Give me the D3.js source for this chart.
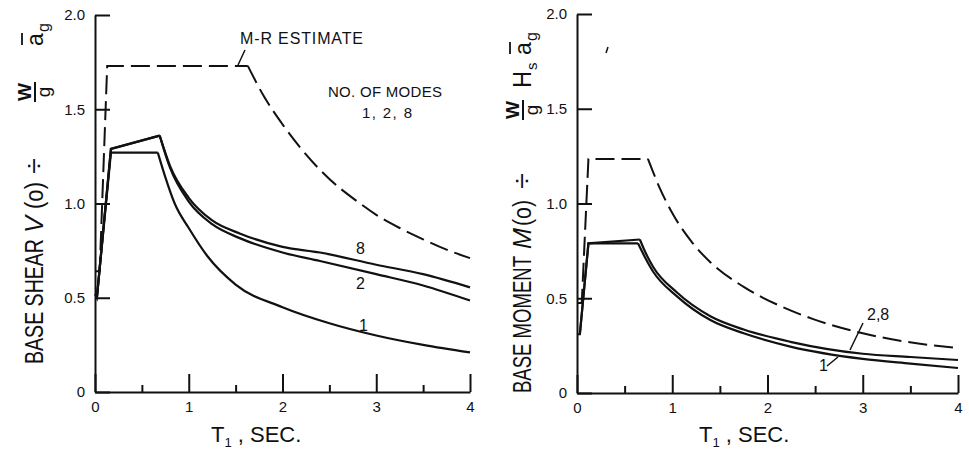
<!DOCTYPE html>
<html lang="en">
<head>
<meta charset="UTF-8">
<title>Base shear and base moment vs T1</title>
<style>
    body { margin: 0; background: #fff; }
    svg { display: block; }
    text { font-family: "Liberation Sans", "DejaVu Sans", sans-serif; fill: #111; }
    .axis path, .axis line { stroke: #111; stroke-width: 2; fill: none; }
    .axis text { font-size: 15px; }
    .curve { fill: none; stroke: #111; stroke-width: 2.2; stroke-linejoin: miter; }
    .dash { stroke-dasharray: 19 7; stroke-width: 2; }
    .leader { stroke: #111; stroke-width: 1.5; }
</style>
</head>
<body>
<svg id="chart" width="969" height="451"></svg>
<script src="https://cdn.jsdelivr.net/npm/d3@7"></script>
<script>
// ---- tick values ----
const xTicks = [0, 1, 2, 3, 4];
const xMinor = [0.5, 1.5, 2.5, 3.5];
const yTicks = [0, 0.5, 1.0, 1.5, 2.0];

// ---- base shear (left panel) ----
// *Break = index where the straight rise ends and the smooth decay starts
const shearMrT = [0, 0.05, 0.13, 1.63, 1.8, 2.0, 2.2, 2.5, 2.8, 3.0, 3.25, 3.5, 3.75, 4.0];
const shearMrV = [0.64, 0.64, 1.73, 1.73, 1.57, 1.42, 1.29, 1.13, 1.01, 0.94, 0.87, 0.81, 0.755, 0.71];
const shearMrBreak = 3;
const shear1T = [0, 0.02, 0.17, 0.67, 0.75, 0.85, 1.0, 1.2, 1.5, 2.0, 2.5, 3.0, 3.5, 4.0];
const shear1V = [0.52, 0.50, 1.27, 1.27, 1.14, 1.0, 0.87, 0.72, 0.57, 0.45, 0.365, 0.30, 0.25, 0.21];
const shear1Break = 3;
const shear2T = [0.02, 0.17, 0.69, 0.8, 1.0, 1.25, 1.55, 2.0, 2.4, 3.0, 3.5, 4.0];
const shear2V = [0.50, 1.29, 1.36, 1.19, 1.01, 0.89, 0.815, 0.74, 0.695, 0.625, 0.565, 0.485];
const shear8T = [0.02, 0.17, 0.69, 0.8, 1.0, 1.25, 1.55, 2.0, 2.4, 3.0, 3.5, 4.0];
const shear8V = [0.50, 1.29, 1.36, 1.20, 1.03, 0.91, 0.84, 0.77, 0.74, 0.675, 0.625, 0.555];
const shear28Break = 2;

// ---- base moment (right panel) ----
const momMrT = [0, 0.05, 0.12, 0.745, 0.87, 1.0, 1.2, 1.4, 1.75, 2.13, 2.48, 3.0, 3.53, 4.0];
const momMrV = [0.475, 0.475, 1.235, 1.235, 1.08, 0.95, 0.80, 0.69, 0.56, 0.46, 0.39, 0.315, 0.265, 0.237];
const momMrBreak = 3;
const mom1T = [0, 0.03, 0.12, 0.64, 0.72, 0.8, 1.05, 1.4, 1.75, 2.24, 3.0, 3.5, 4.0];
const mom1V = [0.31, 0.31, 0.79, 0.79, 0.71, 0.64, 0.51, 0.385, 0.315, 0.245, 0.18, 0.155, 0.132];
const mom1Break = 3;
const mom28T = [0.03, 0.12, 0.66, 0.72, 0.8, 1.05, 1.4, 1.75, 2.24, 3.0, 3.5, 4.0];
const mom28V = [0.31, 0.79, 0.81, 0.74, 0.665, 0.53, 0.405, 0.335, 0.27, 0.207, 0.19, 0.174];
const mom28Break = 2;

const svg = d3.select("#chart");

function zip(ts, vs) { return ts.map((t, i) => [t, vs[i]]); }

function drawPanel(p) {
    const x = d3.scaleLinear().domain([0, 4]).range([p.left, p.right]);
    const y = d3.scaleLinear().domain([0, 2]).range([p.bottom, p.top]);
    const g = svg.append("g");

    // y axis, ticks pointing inward
    g.append("g").attr("class", "axis")
        .attr("transform", "translate(" + p.left + ",0)")
        .call(d3.axisLeft(y).tickValues(yTicks).tickSizeInner(-15).tickSizeOuter(0).tickPadding(10)
            .tickFormat(d => d === 0 ? "0" : d3.format(".1f")(d)));

    // x axis, major ticks up
    g.append("g").attr("class", "axis")
        .attr("transform", "translate(0," + p.bottom + ")")
        .call(d3.axisBottom(x).tickValues(xTicks).tickSizeInner(-18).tickSizeOuter(0).tickPadding(9)
            .tickFormat(d3.format("d")));
    g.append("g").attr("class", "axis")
        .attr("transform", "translate(0," + p.bottom + ")")
        .call(d3.axisBottom(x).tickValues(xMinor).tickSizeInner(-7).tickSizeOuter(0).tickFormat(""))
        .select(".domain").remove();

    const straight = d3.line().x(d => x(d[0])).y(d => y(d[1]));
    const smooth = d3.line().x(d => x(d[0])).y(d => y(d[1])).curve(d3.curveMonotoneX);

    p.series.forEach(s => {
        const pts = zip(s.t, s.v);
        const cls = s.dashed ? "curve dash" : "curve";
        g.append("path").attr("class", cls).attr("d", straight(pts.slice(0, s.brk + 1)));
        g.append("path").attr("class", cls).attr("d", smooth(pts.slice(s.brk)));
    });

    // x title
    const xt = g.append("text").attr("x", p.xTitleX).attr("y", 442).style("font-size", "22px");
    xt.append("tspan").text("T");
    xt.append("tspan").attr("dy", 5).style("font-size", "13px").text("1");
    xt.append("tspan").attr("dy", -5).text("  ,  SEC.");

    return { x, y, g };
}

// rotated y title with stacked fraction
function yTitle(gx, gy, parts) {
    const t = svg.append("g").attr("transform", "translate(" + gx + "," + gy + ") rotate(-90)");
    parts.forEach(pt => {
        if (pt.frac) {
            t.append("text").attr("x", pt.x).attr("y", -12).attr("text-anchor", "middle")
                .style("font-size", "19px").style("font-weight", "bold").text("W");
            t.append("line").attr("x1", pt.x - 10).attr("x2", pt.x + 10).attr("y1", -8).attr("y2", -8)
                .attr("stroke", "#111").attr("stroke-width", 2);
            t.append("text").attr("x", pt.x).attr("y", 7).attr("text-anchor", "middle")
                .style("font-size", "19px").text("g");
        } else if (pt.abar) {
            t.append("text").attr("x", pt.x).attr("y", 0).style("font-size", "23px").text("a");
            t.append("line").attr("x1", pt.x + 1).attr("x2", pt.x + 13).attr("y1", -21).attr("y2", -21)
                .attr("stroke", "#111").attr("stroke-width", 1.8);
            t.append("text").attr("x", pt.x + 14).attr("y", 6).style("font-size", "16px").text("g");
        } else {
            const tx = t.append("text").attr("x", pt.x).attr("y", 0)
                .style("font-size", (pt.size || 26) + "px")
                .style("font-style", pt.italic ? "italic" : "normal")
                .text(pt.s);
            if (pt.len) tx.attr("textLength", pt.len).attr("lengthAdjust", "spacingAndGlyphs");
            if (pt.sub) t.append("text").attr("x", pt.x + pt.len + 1).attr("y", 6)
                .style("font-size", "15px").text(pt.sub);
        }
    });
}

const left = drawPanel({
    left: 95, right: 470, top: 15, bottom: 392, xTitleX: 211,
    series: [
        { t: shearMrT, v: shearMrV, brk: shearMrBreak, dashed: true },
        { t: shear1T, v: shear1V, brk: shear1Break },
        { t: shear2T, v: shear2V, brk: shear28Break },
        { t: shear8T, v: shear8V, brk: shear28Break }
    ]
});

const right = drawPanel({
    left: 577, right: 958, top: 14, bottom: 393, xTitleX: 699,
    series: [
        { t: momMrT, v: momMrV, brk: momMrBreak, dashed: true },
        { t: mom1T, v: mom1V, brk: mom1Break },
        { t: mom28T, v: mom28V, brk: mom28Break }
    ]
});

// annotations, left panel
const lg = left.g;
lg.append("text").attr("x", 240).attr("y", 44).style("font-size", "16px")
    .attr("textLength", 123).text("M-R ESTIMATE");
lg.append("line").attr("class", "leader").attr("x1", 245).attr("y1", 50).attr("x2", 238).attr("y2", 65);
lg.append("text").attr("x", 328).attr("y", 97).style("font-size", "15px")
    .attr("textLength", 114).text("NO. OF MODES");
lg.append("text").attr("x", 362).attr("y", 118).style("font-size", "15px")
    .attr("textLength", 50).text("1, 2, 8");
lg.append("text").attr("x", 356).attr("y", 254).style("font-size", "16px").text("8");
lg.append("text").attr("x", 356).attr("y", 289).style("font-size", "16px").text("2");
lg.append("text").attr("x", 359).attr("y", 331).style("font-size", "16px").text("1");

// annotations, right panel
const rg = right.g;
rg.append("text").attr("x", 867).attr("y", 320).style("font-size", "16px").text("2,8");
rg.append("line").attr("class", "leader").attr("x1", 863).attr("y1", 323).attr("x2", 850).attr("y2", 350);
rg.append("text").attr("x", 819).attr("y", 371).style("font-size", "16px").text("1");
rg.append("line").attr("class", "leader").attr("x1", 827).attr("y1", 366).attr("x2", 838).attr("y2", 357);
rg.append("line").attr("class", "leader").attr("x1", 606).attr("y1", 53).attr("x2", 608).attr("y2", 47)
    .attr("stroke-width", 2.5);

yTitle(43, 364, [
    { s: "BASE SHEAR", x: 0, len: 125 },
    { s: "V", x: 131, italic: true, len: 17 },
    { s: "(o)", x: 155, len: 27 },
    { s: "÷", x: 190, len: 16 },
    { frac: true, x: 272 },
    { abar: true, x: 318 }
]);

yTitle(531, 393, [
    { s: "BASE MOMENT", x: 0, len: 137 },
    { s: "M", x: 144, italic: true, len: 21 },
    { s: "(o)", x: 167, len: 26 },
    { s: "÷", x: 204, len: 16 },
    { frac: true, x: 283 },
    { s: "H", x: 305, len: 17, sub: "s" },
    { abar: true, x: 338 }
]);
</script>
</body>
</html>
